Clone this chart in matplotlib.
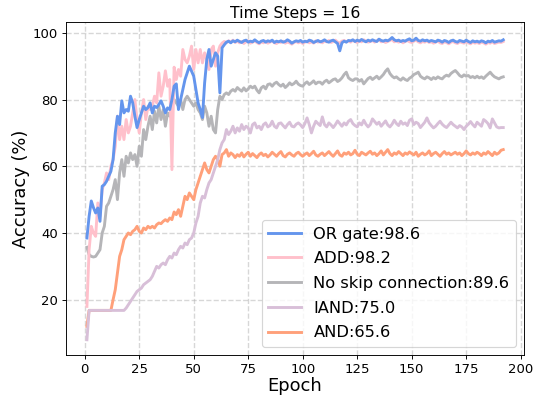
import numpy as np
import matplotlib
matplotlib.use("Agg")
import matplotlib.pyplot as plt

# accuracy per epoch (epochs 1..192)
or_gate = [
    38.5, 45.0, 49.6, 47.6, 46.0, 47.5, 43.5, 54.0, 54.5, 55.5,
    57.0, 58.5, 62.0, 70.0, 75.0, 72.5, 79.6, 76.0, 77.0, 76.5,
    81.0, 79.0, 75.0, 71.6, 74.0, 76.0, 78.0, 77.0, 77.6, 79.0,
    76.0, 78.0, 77.6, 78.5, 79.6, 78.0, 76.0, 77.5, 77.0, 80.0,
    84.0, 84.7, 77.0, 80.0, 83.0, 86.0, 88.0, 90.0, 88.5, 87.0,
    83.0, 79.0, 77.0, 74.6, 85.0, 92.0, 95.0, 90.0, 92.0, 94.0,
    93.0, 82.0, 95.5, 96.4, 97.2, 97.5, 97.0, 97.6, 97.3, 97.8,
    97.4, 97.1, 97.6, 97.8, 97.2, 97.5, 97.3, 97.9, 97.4, 97.0,
    97.5, 97.7, 97.2, 97.6, 97.4, 97.8, 97.1, 97.5, 97.3, 97.6,
    97.2, 97.4, 97.9, 97.5, 96.9, 97.3, 97.6, 97.4, 97.7, 97.2,
    97.5, 97.3, 97.8, 97.6, 97.1, 97.4, 97.7, 97.3, 97.5, 97.9,
    97.4, 97.2, 97.6, 97.8, 97.3, 96.8, 94.6, 97.0, 97.5, 97.2,
    97.7, 97.6, 97.9, 97.4, 97.8, 97.5, 98.0, 97.6, 97.3, 97.8,
    97.5, 97.9, 97.6, 97.4, 98.1, 97.7, 97.5, 97.8, 97.6, 98.0,
    98.6, 97.9, 97.6, 97.8, 97.4, 97.7, 97.5, 97.9, 98.2, 97.6,
    97.8, 98.4, 97.7, 97.5, 97.9, 97.6, 97.8, 97.4, 97.7, 97.5,
    97.3, 97.8, 97.6, 97.2, 97.7, 97.5, 97.1, 97.6, 97.8, 97.4,
    97.2, 97.7, 97.5, 97.3, 97.8, 97.4, 97.1, 97.6, 97.3, 97.5,
    97.2, 97.6, 97.4, 97.0, 97.5, 97.3, 97.7, 97.2, 97.4, 97.6,
    97.5, 97.9,
]
add = [
    18.0, 35.0, 42.0, 40.0, 39.0, 49.0, 45.0, 53.0, 55.0, 58.0,
    56.0, 60.0, 62.0, 66.0, 75.0, 68.0, 72.0, 68.0, 74.0, 70.0,
    72.0, 76.0, 80.0, 74.0, 70.0, 76.0, 80.0, 74.0, 78.0, 77.0,
    78.0, 81.0, 79.0, 88.0, 81.0, 84.0, 88.6, 84.0, 86.0, 59.0,
    89.7, 86.0, 89.0, 87.0, 95.0, 92.0, 91.0, 93.0, 96.0, 89.0,
    95.0, 91.0, 95.0, 91.0, 94.0, 92.0, 89.0, 95.0, 96.0, 90.0,
    94.0, 96.0, 96.9, 97.4, 97.0, 97.6, 97.2, 97.8, 97.1, 97.5,
    97.0, 97.4, 96.8, 97.3, 97.6, 96.9, 97.2, 97.5, 97.1, 96.7,
    97.3, 97.0, 97.5, 96.9, 97.2, 97.6, 97.0, 96.8, 97.3, 97.1,
    97.5, 96.9, 97.2, 97.0, 96.6, 97.1, 97.4, 97.0, 97.3, 96.8,
    97.2, 97.5, 97.0, 97.3, 96.9, 97.6, 97.2, 97.4, 97.0, 97.5,
    97.3, 97.7, 97.1, 97.4, 97.8, 97.2, 96.9, 97.5, 97.7, 97.3,
    97.6, 97.2, 97.8, 97.4, 97.1, 97.6, 97.3, 97.9, 97.5, 97.2,
    97.4, 97.7, 97.2, 97.6, 98.0, 97.3, 97.5, 97.1, 97.4, 97.7,
    98.0, 97.3, 97.6, 97.2, 97.5, 97.0, 97.4, 97.7, 97.3, 97.1,
    97.5, 97.8, 97.3, 97.0, 97.4, 97.2, 97.6, 97.1, 97.3, 96.9,
    97.2, 97.5, 97.0, 96.8, 97.3, 97.1, 96.7, 97.2, 97.4, 97.0,
    96.8, 97.3, 97.1, 96.9, 97.4, 97.0, 96.7, 97.2, 96.9, 97.1,
    96.8, 97.2, 97.0, 96.6, 97.1, 96.9, 97.3, 96.8, 97.0, 97.2,
    97.1, 97.4,
]
no_skip = [
    35.7, 33.5, 33.0, 32.8, 33.0, 34.0, 35.0, 40.0, 42.0, 48.0,
    49.0, 51.0, 53.0, 56.0, 50.0, 58.0, 62.0, 57.0, 63.0, 61.0,
    64.0, 62.0, 63.5, 60.0, 66.0, 63.0, 71.0, 68.0, 72.0, 75.0,
    71.0, 76.5, 73.0, 78.0, 74.0, 77.0, 72.0, 76.0, 75.0, 79.0,
    80.0, 79.0, 78.0, 80.0, 77.0, 80.0, 81.0, 80.0, 79.0, 78.0,
    79.0, 77.0, 76.0, 74.0, 78.0, 76.0, 72.0, 75.0, 71.0, 70.0,
    77.0, 81.0, 80.0, 81.5, 82.0, 81.5, 82.5, 83.0, 82.5, 83.6,
    83.0, 82.5, 83.5, 82.6, 83.2, 84.0, 83.5, 84.0, 82.8, 82.0,
    83.5, 84.0, 83.2, 84.5, 84.7, 84.0, 84.8, 85.2, 84.5, 84.0,
    84.6, 83.6, 84.2, 85.0, 84.4, 84.8, 85.5, 84.6, 84.2, 84.0,
    84.8, 85.3, 84.5, 85.0, 85.6, 84.7, 85.2, 85.2, 84.6, 85.4,
    85.8, 85.0, 85.5, 86.0, 86.2, 85.4, 85.8, 86.5, 87.5, 88.2,
    86.5, 86.0, 85.7, 86.2, 86.2, 85.5, 86.0, 84.7, 85.5, 86.3,
    86.7, 86.0, 86.5, 87.0, 86.2, 86.8, 87.5, 88.5, 89.2, 87.8,
    87.0, 86.5, 86.8, 86.2, 85.8, 86.5, 86.0, 85.7, 86.4, 86.8,
    87.5, 87.8, 88.2, 87.0, 86.5, 86.2, 86.8, 86.5, 86.0, 86.6,
    86.2, 86.8, 86.4, 86.2, 86.9, 87.3, 87.0, 87.8, 88.3, 88.7,
    88.0, 87.2, 86.8, 87.4, 87.0, 87.2, 86.6, 86.9, 86.5, 87.0,
    86.5, 86.8, 86.3, 87.0, 87.6, 88.2, 87.4, 86.8, 86.5, 86.2,
    86.6, 86.8,
]
iand = [
    8.0, 16.8, 16.8, 16.8, 16.8, 16.8, 16.8, 16.8, 16.8, 16.8,
    16.8, 16.8, 16.8, 16.8, 16.8, 16.8, 16.8, 16.8, 17.5, 18.5,
    19.5, 20.5, 21.5, 22.5, 23.0, 23.5, 24.5, 25.0, 25.5, 26.0,
    27.0, 28.5, 30.0, 29.5, 30.5, 31.0, 30.5, 32.0, 33.0, 32.5,
    34.0, 33.5, 35.0, 36.0, 35.5, 37.0, 36.5, 38.0, 38.5, 40.0,
    43.0, 45.0, 49.0, 51.0, 50.5, 53.0, 55.0, 56.0, 58.0, 60.0,
    62.0, 65.0, 67.0, 68.0, 71.0, 69.5, 70.5, 72.0, 70.0, 71.5,
    70.5, 72.5, 71.0, 72.0, 71.5, 70.0, 72.5, 73.0, 71.5, 72.0,
    71.0, 72.5, 73.0, 71.8, 72.2, 73.5, 72.0, 71.5, 72.8, 73.0,
    72.2, 71.5, 72.5, 73.2, 72.0, 71.8, 72.6, 73.0, 72.4, 71.6,
    72.8, 74.5, 72.5, 70.0, 72.0, 73.5, 72.8, 72.2, 74.8, 72.5,
    71.8, 73.0, 72.4, 71.6, 72.5, 73.6, 72.8, 72.0, 73.0, 72.4,
    73.5, 74.0, 72.8, 72.2, 71.8, 73.0, 72.4, 73.8, 72.6, 71.8,
    72.5, 74.2, 73.4, 72.6, 73.2, 72.0, 72.8, 73.6, 72.4, 71.8,
    72.6, 73.8, 72.8, 72.2, 73.5, 72.6, 73.0, 72.2, 73.8, 74.2,
    72.5, 73.2, 72.8, 71.6, 72.4, 73.2, 74.5, 73.0, 72.2, 71.5,
    72.0, 72.8, 73.5, 72.6, 72.0, 71.6, 72.4, 73.2, 72.5, 72.0,
    71.5, 72.2, 71.8, 71.0, 72.0, 72.6, 73.4, 72.5, 71.8, 73.2,
    72.6, 72.0, 74.0, 73.5, 72.8, 71.5, 74.2, 73.0, 71.8, 71.5,
    71.6, 71.6,
]
and_gate = [
    12.0, 16.8, 16.8, 16.8, 16.8, 16.8, 16.8, 16.8, 16.8, 16.8,
    16.8, 16.8, 20.0, 23.0, 28.0, 33.0, 35.0, 38.0, 39.0, 40.0,
    39.5, 40.5, 41.0, 42.0, 40.5, 40.0, 41.5, 41.0, 42.0, 41.5,
    42.0, 41.5, 42.5, 43.0, 42.8, 43.5, 44.0, 43.5, 44.5, 44.0,
    46.3, 45.5, 47.0, 45.0, 48.0, 51.0, 50.0, 52.0, 51.0, 50.0,
    53.0, 55.0, 57.0, 59.0, 61.0, 59.0, 58.0, 60.0, 62.0, 63.0,
    62.0, 60.0, 63.5, 64.0, 65.0, 63.0, 64.0, 63.5, 62.6, 63.5,
    63.0, 64.0, 62.8, 63.6, 64.2, 63.0, 63.8, 63.2, 62.6, 63.5,
    64.0, 63.2, 63.6, 62.8, 63.4, 64.2, 63.6, 63.0, 63.8, 64.4,
    63.2, 62.8, 63.6, 64.0, 63.4, 63.0, 63.8, 64.2, 63.5, 63.0,
    63.6, 64.0, 63.2, 63.8, 64.5, 63.4, 63.0, 63.6, 64.0, 63.2,
    63.8, 64.4, 63.6, 63.0, 63.8, 64.6, 63.4, 63.0, 64.0, 63.6,
    64.2, 63.4, 63.8, 64.8, 63.6, 63.2, 64.2, 63.8, 63.4, 64.0,
    64.5, 63.6, 64.0, 63.2, 63.8, 64.6, 63.4, 64.2, 65.0, 63.8,
    63.2, 64.0, 63.6, 64.4, 63.8, 63.2, 64.0, 63.6, 64.3, 63.8,
    63.4, 64.2, 63.0, 63.6, 64.0, 63.4, 63.8, 64.6, 63.2, 63.8,
    64.2, 63.6, 63.0, 63.8, 64.4, 63.6, 64.0, 63.4, 63.8, 64.2,
    63.6, 64.0, 63.2, 63.8, 64.6, 63.8, 63.4, 64.0, 63.6, 64.2,
    63.8, 63.2, 64.0, 63.6, 64.4, 63.8, 63.2, 64.2, 63.6, 64.0,
    64.8, 65.0,
]
epochs = np.arange(1, len(or_gate) + 1)

labels = ["OR gate:98.6", "ADD:98.2", "No skip connection:89.6", "IAND:75.0", "AND:65.6"]
colors = ["cornflowerblue", "pink", "#b5b5b8", "thistle", "lightsalmon"]
series = [or_gate, add, no_skip, iand, and_gate]

fig = plt.figure(figsize=(6.4, 4.815))
ax = fig.add_axes([0.124, 0.115, 0.859, 0.829])

# draw from the bottom up so blue ends on top
for vals, lab, col in list(zip(series, labels, colors))[::-1]:
    ax.plot(epochs, vals, color=col, linewidth=2.5, label=lab)

ax.grid(True, linestyle="--", linewidth=1.2, color="#b0b0b0", alpha=0.5)
ax.set_xticks(np.arange(0, 201, 25))
ax.set_yticks(np.arange(20, 101, 20))
ax.tick_params(labelsize=11.5)
ax.set_xlabel("Epoch", fontsize=15.5, labelpad=1)
ax.set_ylabel("Accuracy (%)", fontsize=15.5, labelpad=2)
ax.set_title("Time Steps = 16", fontsize=13.5, pad=4)

handles, labs = ax.get_legend_handles_labels()
ax.legend(handles[::-1], labs[::-1], loc="lower right", fontsize=14, labelspacing=0.6)

fig.savefig("out.png", dpi=83.3)
